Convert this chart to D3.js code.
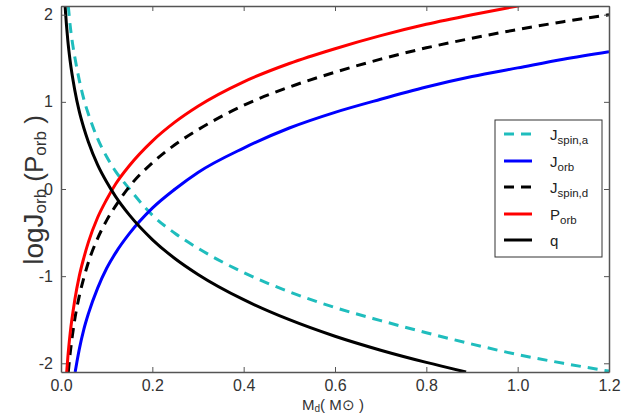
<!DOCTYPE html>
<html><head><meta charset="utf-8">
<script src="https://cdn.jsdelivr.net/npm/d3@7"></script>
<style>body{margin:0;background:#fff}svg{display:block}text{font-family:"Liberation Sans",Arial,sans-serif}</style>
</head><body><svg id="c" width="623" height="416"></svg>
<script>
// Values (x = M_d in solar masses)
const xTicks = [0.0, 0.2, 0.4, 0.6, 0.8, 1.0, 1.2];
const yTicks = [-2, -1, 0, 1, 2];

const jspinA_x = [0.016, 0.02, 0.025, 0.03, 0.04, 0.05, 0.06, 0.08, 0.1, 0.12, 0.15, 0.2, 0.25, 0.3, 0.4, 0.5, 0.6, 0.7, 0.8, 0.9, 1.0, 1.1, 1.2];
const jspinA_y = [2.1, 1.88, 1.68, 1.52, 1.25, 1.03, 0.86, 0.58, 0.37, 0.2, 0.0, -0.3, -0.51, -0.68, -0.96, -1.18, -1.36, -1.51, -1.65, -1.78, -1.9, -2.0, -2.09];

const jorb_x = [0.031, 0.035, 0.04, 0.05, 0.06, 0.08, 0.1, 0.12, 0.15, 0.2, 0.25, 0.3, 0.4, 0.5, 0.6, 0.7, 0.8, 0.9, 1.0, 1.1, 1.2];
const jorb_y = [-2.1, -1.98, -1.84, -1.61, -1.43, -1.14, -0.91, -0.73, -0.51, -0.22, 0.0, 0.19, 0.47, 0.7, 0.88, 1.03, 1.17, 1.29, 1.39, 1.49, 1.576];

const jspinD_x = [0.016, 0.018, 0.02, 0.025, 0.03, 0.04, 0.05, 0.06, 0.08, 0.1, 0.12, 0.15, 0.2, 0.25, 0.3, 0.4, 0.5, 0.6, 0.7, 0.8, 0.9, 1.0, 1.1, 1.2];
const jspinD_y = [-2.1, -1.99, -1.89, -1.68, -1.5, -1.23, -1.02, -0.84, -0.57, -0.36, -0.19, 0.03, 0.3, 0.51, 0.68, 0.96, 1.17, 1.34, 1.49, 1.62, 1.73, 1.83, 1.92, 2.0];

const porb_x = [0.0125, 0.015, 0.02, 0.03, 0.04, 0.05, 0.06, 0.08, 0.1, 0.12, 0.15, 0.2, 0.25, 0.3, 0.4, 0.5, 0.6, 0.7, 0.8, 0.9, 1.0, 1.02];
const porb_y = [-2.1, -1.93, -1.66, -1.28, -1.0, -0.79, -0.61, -0.33, -0.12, 0.06, 0.27, 0.55, 0.77, 0.95, 1.23, 1.44, 1.61, 1.76, 1.89, 2.0, 2.1, 2.12];

const q_x = [0.009, 0.01, 0.012, 0.015, 0.02, 0.03, 0.04, 0.05, 0.06, 0.08, 0.1, 0.12, 0.15, 0.2, 0.25, 0.3, 0.4, 0.5, 0.6, 0.7, 0.8, 0.887];
const q_y = [2.1, 2.02, 1.88, 1.7, 1.47, 1.14, 0.89, 0.7, 0.54, 0.28, 0.08, -0.09, -0.3, -0.58, -0.8, -0.98, -1.27, -1.5, -1.69, -1.85, -1.99, -2.1];

const series = [
  {main:"J", sub:"spin,a", xs:jspinA_x, ys:jspinA_y, color:"#1fbdbd", dash:"10,7"},
  {main:"J", sub:"orb", xs:jorb_x, ys:jorb_y, color:"#0000ff", dash:null},
  {main:"J", sub:"spin,d", xs:jspinD_x, ys:jspinD_y, color:"#000000", dash:"10,7"},
  {main:"P", sub:"orb", xs:porb_x, ys:porb_y, color:"#ff0000", dash:null},
  {main:"q", sub:"", xs:q_x, ys:q_y, color:"#000000", dash:null}
];

const svg = d3.select("#c");
const L = 61, R = 609, T = 6, B = 372;
const x = d3.scaleLinear().domain([0, 1.2]).range([L, R]);
const y = d3.scaleLinear().domain([-2.1, 2.1]).range([B, T]);

svg.append("defs").append("clipPath").attr("id","clip")
  .append("rect").attr("x",L).attr("y",T).attr("width",R-L).attr("height",B-T);

const line = d3.line().x(d=>x(d[0])).y(d=>y(d[1])).curve(d3.curveMonotoneX);
const g = svg.append("g").attr("clip-path","url(#clip)");
series.forEach(s=>{
  const pts = s.xs.map((v,i)=>[v, s.ys[i]]);
  g.append("path").attr("d", line(pts)).attr("fill","none")
    .attr("stroke", s.color).attr("stroke-width", 3)
    .attr("stroke-dasharray", s.dash);
});

// Axes with inward ticks on all four sides
const axCol = "#555";
const axB = svg.append("g").attr("transform",`translate(0,${B})`)
  .call(d3.axisBottom(x).tickValues(xTicks).tickFormat(d3.format(".1f")).tickSizeInner(-5).tickSizeOuter(0).tickPadding(8));
const axT = svg.append("g").attr("transform",`translate(0,${T})`)
  .call(d3.axisTop(x).tickValues(xTicks).tickFormat("").tickSizeInner(-5).tickSizeOuter(0));
const axL = svg.append("g").attr("transform",`translate(${L},0)`)
  .call(d3.axisLeft(y).tickValues(yTicks).tickFormat(d=>String(d)).tickSizeInner(-5).tickSizeOuter(0).tickPadding(8));
const axR = svg.append("g").attr("transform",`translate(${R},0)`)
  .call(d3.axisRight(y).tickValues(yTicks).tickFormat("").tickSizeInner(-5).tickSizeOuter(0));
[axB, axT, axL, axR].forEach(a=>{
  a.select(".domain").attr("stroke", axCol).attr("stroke-width", 1.5);
  a.selectAll(".tick line").attr("stroke", axCol).attr("stroke-width", 1);
  a.selectAll("text").attr("fill","#333").attr("font-size",16).attr("font-family","Liberation Sans, Arial, sans-serif");
});
axB.selectAll("text").attr("dy","0.71em");

// Axis labels
const xl = svg.append("text").attr("x", 333).attr("y", 410).attr("text-anchor","middle")
  .attr("font-size",15).attr("fill","#333");
xl.append("tspan").text("M");
xl.append("tspan").text("d").attr("font-size",10).attr("dy",2);
xl.append("tspan").text("( M\u2299 )").attr("dy",-2);

const yl = svg.append("text").attr("transform","translate(43,190) rotate(-90)")
  .attr("text-anchor","middle").attr("font-size",28).attr("fill","#333");
yl.append("tspan").text("logJ");
yl.append("tspan").text("orb").attr("font-size",17).attr("dy",3);
yl.append("tspan").text(" (").attr("dy",-3).attr("font-size",26);
yl.append("tspan").text("P").attr("font-size",26);
yl.append("tspan").text("orb").attr("font-size",17).attr("dy",3);
yl.append("tspan").text(" )").attr("dy",-3).attr("font-size",26);

// Legend
const lg = svg.append("g");
lg.append("rect").attr("x",495).attr("y",120).attr("width",107).attr("height",137)
  .attr("fill","#fff").attr("stroke","#333").attr("stroke-width",1);
const ly = [134, 161, 187, 214, 240];
series.forEach((s,i)=>{
  lg.append("line").attr("x1",504).attr("x2",532).attr("y1",ly[i]).attr("y2",ly[i])
    .attr("stroke",s.color).attr("stroke-width",3).attr("stroke-dasharray", s.dash ? "10,7" : null);
  const t = lg.append("text").attr("x",550).attr("y",ly[i]+6).attr("font-size",15).attr("fill","#222");
  t.append("tspan").text(s.main);
  if (s.sub) t.append("tspan").text(s.sub).attr("font-size",11.5).attr("dy",3.5);
});
</script></body></html>
